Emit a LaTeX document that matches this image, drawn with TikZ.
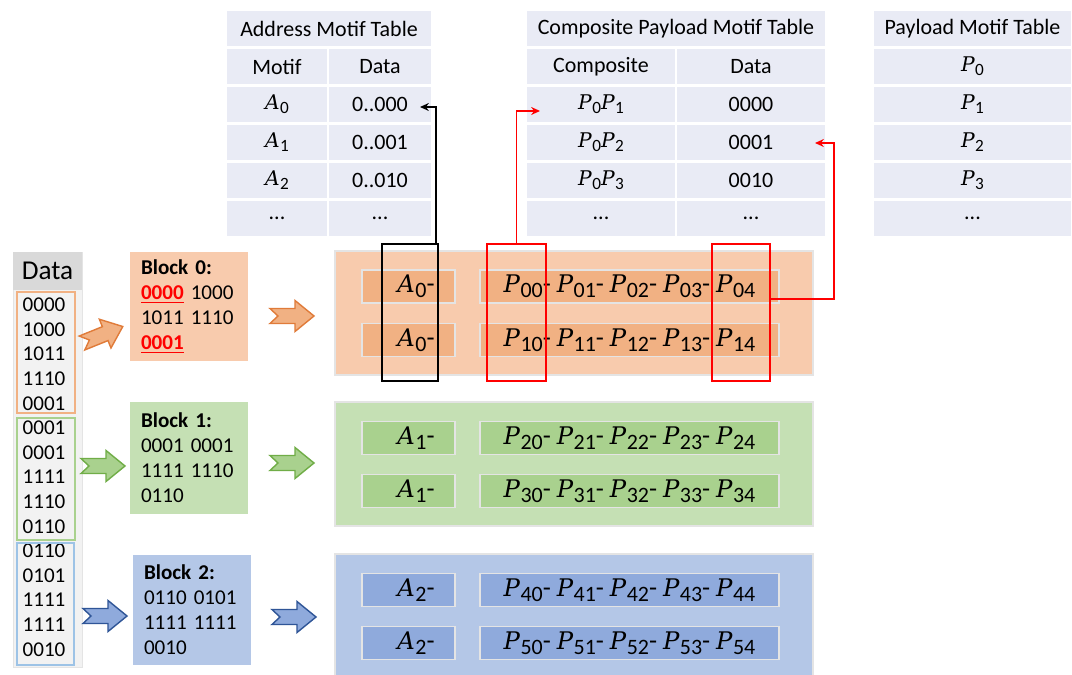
\RequirePackage{fix-cm}
\documentclass[tikz,border=0pt]{standalone}
\usepackage{fontspec}
\setmainfont{Carlito}
\newfontfamily\cmath[Scale=0.92]{DejaVu Serif}
\usetikzlibrary{arrows.meta,calc}
\definecolor{tbl}{HTML}{E9EBF5}
\definecolor{dbg}{HTML}{F2F2F2}
\definecolor{dhead}{HTML}{D9D9D9}
\definecolor{opanel}{HTML}{F8CBAD}
\definecolor{oinner}{HTML}{F1B183}
\definecolor{oline}{HTML}{E07B39}
\definecolor{gpanel}{HTML}{C5E0B4}
\definecolor{ginner}{HTML}{A9D18E}
\definecolor{gline}{HTML}{70AD47}
\definecolor{bpanel}{HTML}{B4C7E7}
\definecolor{binner}{HTML}{8FAADC}
\definecolor{bline}{HTML}{2F5597}
\definecolor{bout}{HTML}{9DC3E6}
\definecolor{pborder}{HTML}{E4E4E4}
\newcommand\hlr[1]{\textcolor{red}{\textbf{\underline{#1}}}}
% italic letter with a sans subscript: size of subscript, letter, subscript
\newcommand\mv[3]{{\cmath\itshape #2}\kern0.3pt\raisebox{-0.4ex}{\fontsize{#1}{#1}\selectfont #3}}
\newcommand\tv[2]{\mv{9.8}{#1}{#2}}
\newcommand\rv[2]{\mv{12.5}{#1}{#2}}
\tikzset{
  px/.style 2 args={minimum width=#1*0.02cm, minimum height=#2*0.02cm, inner sep=0pt, outer sep=0pt},
  cell/.style={fill=tbl, draw=white, line width=1.2pt, font=\fontsize{12.5}{14}\selectfont},
  num/.style={inner sep=0pt, font=\fontsize{12}{14}\selectfont},
  block/.style={align=left, text width=1.92cm, font=\fontsize{12}{14.2}\selectfont},
  panel/.style={draw=pborder, line width=0.6pt},
  inbox/.style={draw=pborder, line width=0.9pt, font=\fontsize{15}{18}\selectfont},
  selbox/.style={line width=1.3pt},
  conn/.style={line width=1pt, -{Stealth[length=5pt,width=4.5pt]}},
  narrow/.pic={\path[pic actions] (0,-7.5) -- (25,-7.5) -- (25,-15.5) -- (44,0) -- (25,15.5) -- (25,7.5) -- (0,7.5) -- (8,0) -- cycle;},
}
\begin{document}
\begin{tikzpicture}[x=0.02cm,y=-0.02cm]
\useasboundingbox (0,0) rectangle (1072,675);
\fill[white] (0,0) rectangle (1072,675);

% ---------- Address Motif Table ----------
\node[cell,px={206}{37}] (at) at (329,28.5) {Address Motif Table};
\node[cell,px={102}{38}] (ah1) at (277,66.5) {Motif};
\node[cell,px={104}{38}] (ah2) at (380,66.5) {Data};
\node[cell,px={102}{38}] (a0m) at (277,104.5) {\tv{A}{0}};
\node[cell,px={104}{38}] (a0d) at (380,104.5) {0..000};
\node[cell,px={102}{38}] (a1m) at (277,142.5) {\tv{A}{1}};
\node[cell,px={104}{38}] (a1d) at (380,142.5) {0..001};
\node[cell,px={102}{38}] (a2m) at (277,180.5) {\tv{A}{2}};
\node[cell,px={104}{38}] (a2d) at (380,180.5) {0..010};
\node[cell,px={102}{38}] (a3m) at (277,218.5) {...};
\node[cell,px={104}{38}] (a3d) at (380,218.5) {...};

% ---------- Composite Payload Motif Table ----------
\node[cell,px={300}{37}] (ct) at (676,28.5) {Composite Payload Motif Table};
\node[cell,px={150}{38}] (ch1) at (601,66.5) {Composite};
\node[cell,px={150}{38}] (ch2) at (751,66.5) {Data};
\node[cell,px={150}{38}] (c0m) at (601,104.5) {\tv{P}{0}\tv{P}{1}};
\node[cell,px={150}{38}] (c0d) at (751,104.5) {0000};
\node[cell,px={150}{38}] (c1m) at (601,142.5) {\tv{P}{0}\tv{P}{2}};
\node[cell,px={150}{38}] (c1d) at (751,142.5) {0001};
\node[cell,px={150}{38}] (c2m) at (601,180.5) {\tv{P}{0}\tv{P}{3}};
\node[cell,px={150}{38}] (c2d) at (751,180.5) {0010};
\node[cell,px={150}{38}] (c3m) at (601,218.5) {...};
\node[cell,px={150}{38}] (c3d) at (751,218.5) {...};

% ---------- Payload Motif Table ----------
\node[cell,px={199}{37}] (pt) at (972.5,28.5) {Payload Motif Table};
\node[cell,px={199}{38}] (p0) at (972.5,66.5) {\tv{P}{0}};
\node[cell,px={199}{38}] (p1) at (972.5,104.5) {\tv{P}{1}};
\node[cell,px={199}{38}] (p2) at (972.5,142.5) {\tv{P}{2}};
\node[cell,px={199}{38}] (p3) at (972.5,180.5) {\tv{P}{3}};
\node[cell,px={199}{38}] (p4) at (972.5,218.5) {...};

% ---------- Data column ----------
\node[fill=dbg, draw=dhead!70, line width=0.5pt, px={69}{415}] (dcol) at (47.5,459.5) {};
\node[fill=dhead, px={69}{38}, font=\fontsize{15.5}{18}\selectfont] (dh) at (47.5,271) {Data};
\foreach \v [count=\i] in {0000,1000,1011,1110,0001,0001,0001,1111,1110,0110,0110,0101,1111,1111,0010}
  \node[num] (d\i) at (44,{305+(\i-1)*24.6}) {\v};
\draw[oinner, line width=1.3pt] (17,292) rectangle (75,413);
\draw[ginner, line width=1.3pt] (17,418) rectangle (75,540);
\draw[bout, line width=1.3pt] (17,543) rectangle (74,665);

% ---------- Blocks ----------
\node[block, fill=opanel, px={118}{109}] (b0) at (189,306.5)
  {\textbf{Block 0:}\\\hlr{0000} 1000\\1011 1110\\\hlr{0001}};
\node[block, fill=gpanel, px={118}{112}] (b1) at (189,458)
  {\textbf{Block 1:}\\0001 0001\\1111 1110\\0110};
\node[block, fill=bpanel, px={118}{110}] (b2) at (192,610)
  {\textbf{Block 2:}\\0110 0101\\1111 1111\\0010};

% ---------- Arrows ----------
\pic[rotate=22, fill=oinner, draw=oline, line width=0.8pt] (ar0a) at (82,343) {narrow};
\pic[fill=oinner, draw=oline, line width=0.8pt] (ar0b) at (270,316) {narrow};
\pic[fill=ginner, draw=gline, line width=0.8pt] (ar1a) at (81,466) {narrow};
\pic[fill=ginner, draw=gline, line width=0.8pt] (ar1b) at (270,463) {narrow};
\pic[fill=binner, draw=bline, line width=0.8pt] (ar2a) at (83,616) {narrow};
\pic[fill=binner, draw=bline, line width=0.8pt] (ar2b) at (272,617) {narrow};

% ---------- Panels ----------
\node[panel, fill=opanel, px={478}{124}] (pan0) at (574,313) {};
\node[inbox, fill=oinner, px={93}{33}] (r0a) at (408.5,286.5) {\hspace{0.3cm}\rv{A}{0}-};
\node[inbox, fill=oinner, px={299}{33}] (r0p) at (629.5,286.5) {\rv{P}{00}- \rv{P}{01}- \rv{P}{02}- \rv{P}{03}- \rv{P}{04}};
\node[inbox, fill=oinner, px={93}{33}] (r1a) at (408.5,340) {\hspace{0.3cm}\rv{A}{0}-};
\node[inbox, fill=oinner, px={299}{33}] (r1p) at (629.5,340) {\rv{P}{10}- \rv{P}{11}- \rv{P}{12}- \rv{P}{13}- \rv{P}{14}};

\node[panel, fill=gpanel, px={478}{124}] (pan1) at (574,464) {};
\node[inbox, fill=ginner, px={93}{33}] (r2a) at (408.5,438) {\hspace{0.3cm}\rv{A}{1}-};
\node[inbox, fill=ginner, px={299}{33}] (r2p) at (629.5,438) {\rv{P}{20}- \rv{P}{21}- \rv{P}{22}- \rv{P}{23}- \rv{P}{24}};
\node[inbox, fill=ginner, px={93}{33}] (r3a) at (408.5,491) {\hspace{0.3cm}\rv{A}{1}-};
\node[inbox, fill=ginner, px={299}{33}] (r3p) at (629.5,491) {\rv{P}{30}- \rv{P}{31}- \rv{P}{32}- \rv{P}{33}- \rv{P}{34}};

\node[panel, fill=bpanel, px={478}{126}] (pan2) at (574,617) {};
\node[inbox, fill=binner, px={93}{33}] (r4a) at (408.5,590) {\hspace{0.3cm}\rv{A}{2}-};
\node[inbox, fill=binner, px={299}{33}] (r4p) at (629.5,590) {\rv{P}{40}- \rv{P}{41}- \rv{P}{42}- \rv{P}{43}- \rv{P}{44}};
\node[inbox, fill=binner, px={93}{33}] (r5a) at (408.5,643) {\hspace{0.3cm}\rv{A}{2}-};
\node[inbox, fill=binner, px={299}{33}] (r5p) at (629.5,643) {\rv{P}{50}- \rv{P}{51}- \rv{P}{52}- \rv{P}{53}- \rv{P}{54}};

% ---------- Selection boxes ----------
\node[selbox, draw=black, px={56}{137}] (selA) at (410,312.5) {};
\node[selbox, draw=red, px={59}{137}] (selP0) at (516.5,312.5) {};
\node[selbox, draw=red, px={58}{137}] (selP4) at (741,312.5) {};

% ---------- Connectors ----------
\coordinate (ka) at (420,107);
\coordinate (kp1) at (540,111);
\coordinate (kp2) at (815,143);
\draw[conn, black] ([xshift=-0.04cm]selA.north east) |- (ka);
\draw[conn, red] (selP0.north) |- (kp1);
\draw[conn, red] ([yshift=0.27cm]selP4.east) -- ++(64,0) |- (kp2);
\end{tikzpicture}
\end{document}
